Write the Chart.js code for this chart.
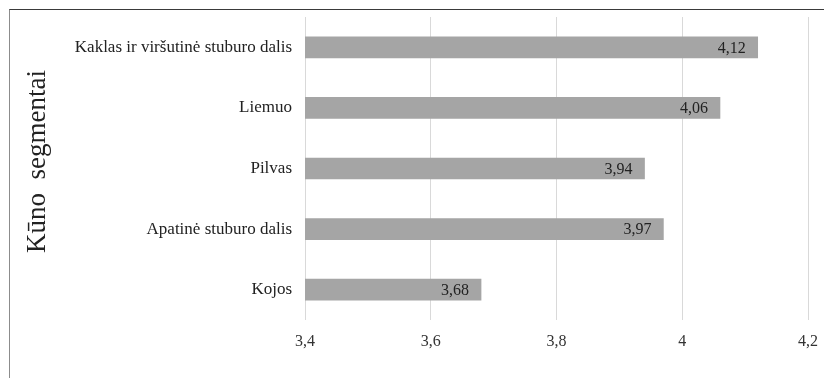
<!DOCTYPE html>
<html lang="lt">
<head>
<meta charset="utf-8">
<script src="https://cdn.jsdelivr.net/npm/chart.js@4/dist/chart.umd.min.js"></script>
<style>
    html, body { margin: 0; padding: 0; background: #fff; }
    #wrap { position: relative; width: 824px; height: 378px; overflow: hidden; }
    #frame {
        position: absolute; left: 9px; top: 9px; width: 900px; height: 500px;
        border-top: 1px solid #3a3a3a; border-left: 1px solid #8c8c8c;
        pointer-events: none;
    }
    canvas { position: absolute; left: 0; top: 0; }
</style>
</head>
<body>
<div id="wrap">
    <div id="frame"></div>
    <canvas id="segChart" width="824" height="378"></canvas>
</div>
<script>
'use strict';

// ============================================================
// Data
// ============================================================
const categories = [
    'Kaklas ir viršutinė stuburo dalis',
    'Liemuo',
    'Pilvas',
    'Apatinė stuburo dalis',
    'Kojos'
];
const values     = [4.12, 4.06, 3.94, 3.97, 3.68];
const tickValues = [3.4, 3.6, 3.8, 4.0, 4.2];
const axisTitle  = 'Kūno  segmentai';

const SERIF = "'Liberation Serif', 'DejaVu Serif', serif";
const fmt   = v => String(Math.round(v * 100) / 100).replace('.', ',');

// ============================================================
// Value labels inside bar end + rotated axis title
// ============================================================
const barLabels = {
    id: 'barLabels',
    afterDatasetsDraw(chart) {
        const ctx  = chart.ctx;
        const meta = chart.getDatasetMeta(0);
        ctx.save();
        ctx.font = '16px ' + SERIF;
        ctx.fillStyle = '#222';
        ctx.textAlign = 'right';
        ctx.textBaseline = 'middle';
        meta.data.forEach((bar, i) => {
            ctx.fillText(fmt(values[i]), bar.x - 12, bar.y + 1);
        });
        ctx.restore();
    }
};

const sideTitle = {
    id: 'sideTitle',
    afterDraw(chart) {
        const ctx = chart.ctx;
        const area = chart.chartArea;
        ctx.save();
        ctx.translate(38, (area.top + area.bottom) / 2 - 7);
        ctx.rotate(-Math.PI / 2);
        ctx.font = '27px ' + SERIF;
        ctx.fillStyle = '#222';
        ctx.textAlign = 'center';
        ctx.textBaseline = 'middle';
        ctx.fillText(axisTitle, 0, 0);
        ctx.restore();
    }
};

new Chart(document.getElementById('segChart'), {
    type: 'bar',
    data: {
        labels: categories,
        datasets: [{
            data: values,
            backgroundColor: '#a5a5a5',
            borderWidth: 0,
            barThickness: 21
        }]
    },
    options: {
        indexAxis: 'y',
        responsive: false,
        animation: false,
        layout: { padding: { left: 14, right: 16, top: 17, bottom: 18 } },
        plugins: { legend: { display: false }, tooltip: { enabled: false } },
        scales: {
            x: {
                min: tickValues[0],
                max: tickValues[tickValues.length - 1],
                afterBuildTicks: scale => { scale.ticks = tickValues.map(v => ({ value: v })); },
                afterFit: scale => {
                    scale.height = 40;
                    scale.paddingLeft = 0;
                    scale.paddingRight = 0;
                },
                grid: { color: '#d9d9d9', lineWidth: 1, drawTicks: false },
                border: { display: false },
                ticks: {
                    padding: 12,
                    color: '#333',
                    font: { family: SERIF, size: 16 },
                    callback: v => fmt(v)
                }
            },
            y: {
                afterFit: scale => {
                    scale.width = 291;
                    scale.paddingTop = 0;
                    scale.paddingBottom = 0;
                },
                grid: { display: false, drawTicks: false },
                border: { display: false },
                ticks: {
                    padding: 13,
                    color: '#222',
                    font: { family: SERIF, size: 17 }
                }
            }
        }
    },
    plugins: [barLabels, sideTitle]
});
</script>
</body>
</html>
